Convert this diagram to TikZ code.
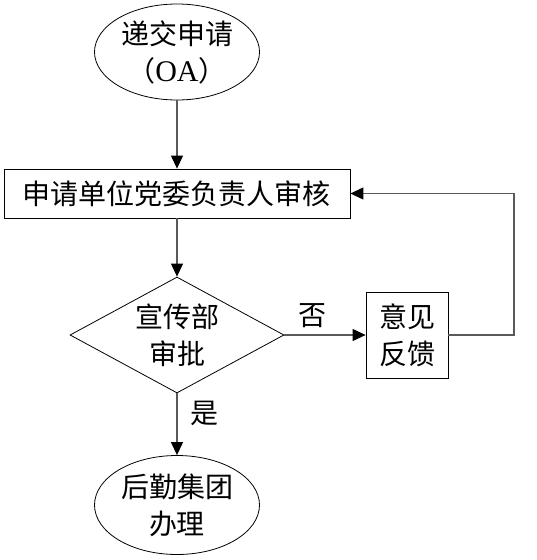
\documentclass[tikz,border=0pt]{standalone}
\usepackage{fontspec}
\setmainfont{Liberation Serif}
\newfontfamily\cjk{Noto Sans CJK SC}
\usetikzlibrary{shapes.geometric,arrows.meta}
\begin{document}
\begin{tikzpicture}[x=1pt,y=-1pt,
  every node/.style={font=\cjk\fontsize{28}{37}\selectfont, align=center, inner sep=0pt},
  shapeline/.style={draw=black, line width=0.8pt},
  oval/.style={shapeline, ellipse, minimum width=165pt},
  procbox/.style={shapeline, rectangle},
  decide/.style={shapeline, diamond, minimum width=214pt, minimum height=116pt, shape aspect=1.85},
  conn/.style={draw=black!65, line width=1.1pt, -{Triangle[length=13pt,width=12pt,color=black]}},
  lbl/.style={font=\cjk\fontsize{28}{30}\selectfont}
]
\useasboundingbox (0,0) rectangle (537,560);
\node[oval, minimum height=96pt] (start) at (177,52) {递交申请\\（{\rmfamily\fontsize{30}{37}\selectfont OA}）};
\node[procbox, minimum width=346pt, minimum height=49pt] (audit) at (177,193.5) {申请单位党委负责人审核};
\node[decide] (dec) at (177,335) {宣传部\\审批};
\node[procbox, minimum width=82pt, minimum height=86pt] (fb) at (407,335) {意见\\反馈};
\node[oval, minimum height=99pt] (fin) at (177,505) {后勤集团\\办理};
\coordinate (c1) at (514,335);
\coordinate (c2) at (514,193.5);
\node[lbl] (no) at (312,316) {否};
\node[lbl] (yes) at (204,413) {是};
\draw[conn] (start) -- (audit);
\draw[conn] (audit) -- (dec);
\draw[conn] (dec.east) -- (fb.west);
\draw[conn] (dec.south) -- (fin);
\draw[conn] (fb.east) -- (c1) -- (c2) -- (audit.east);
\end{tikzpicture}
\end{document}
